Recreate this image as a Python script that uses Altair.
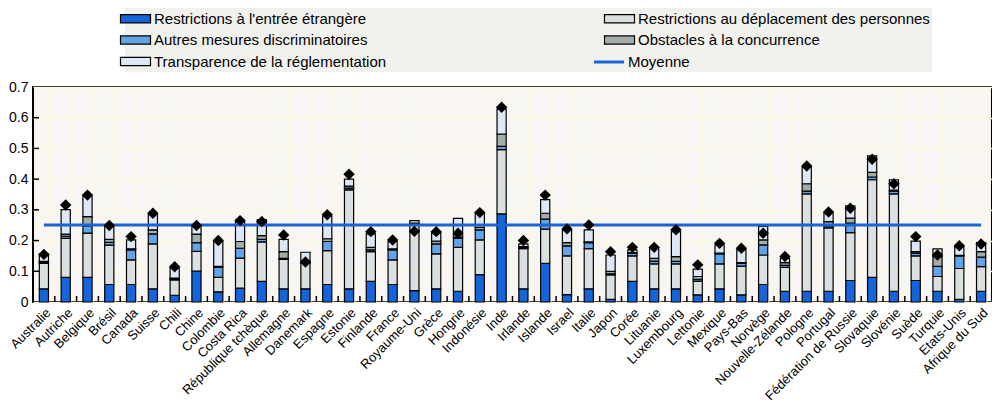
import altair as alt
import pandas as pd

FONT = "Liberation Sans, Arial, Helvetica, sans-serif"

countries = [
    "Australie", "Autriche", "Belgique", "Brésil", "Canada", "Suisse", "Chili", "Chine", "Colombie", "Costa Rica",
    "République tchèque", "Allemagne", "Danemark", "Espagne", "Estonie", "Finlande", "France", "Royaume-Uni", "Grèce", "Hongrie",
    "Indonésie", "Inde", "Irlande", "Islande", "Israel", "Italie", "Japon", "Corée", "Lituanie", "Luxembourg",
    "Lettonie", "Mexique", "Pays-Bas", "Norvège", "Nouvelle-Zélande", "Pologne", "Portugal", "Fédération de Russie", "Slovaquie", "Slovénie",
    "Suède", "Turquie", "Etats-Unis", "Afrique du Sud",
]

series_names = [
    "Restrictions à l'entrée étrangère",
    "Restrictions au déplacement des personnes",
    "Autres mesures discriminatoires",
    "Obstacles à la concurrence",
    "Transparence de la réglementation",
]
series_colors = ["#1464dc", "#dadfdf", "#63a4e6", "#a3aeab", "#dde8f7"]
# legend is filled column by column: this order reads row by row as in the source
legend_order = [0, 2, 4, 1, 3]

entry = [
    0.043, 0.080, 0.080, 0.057, 0.057, 0.043, 0.022, 0.101, 0.033, 0.045,
    0.067, 0.043, 0.043, 0.057, 0.043, 0.067, 0.057, 0.037, 0.043, 0.035,
    0.089, 0.287, 0.043, 0.126, 0.024, 0.043, 0.009, 0.067, 0.043, 0.043,
    0.023, 0.043, 0.023, 0.057, 0.035, 0.035, 0.035, 0.070, 0.080, 0.035,
    0.070, 0.035, 0.009, 0.035,
]
movement = [
    0.083, 0.127, 0.144, 0.128, 0.080, 0.146, 0.050, 0.064, 0.047, 0.098,
    0.129, 0.096, 0.083, 0.110, 0.322, 0.097, 0.080, 0.216, 0.114, 0.143,
    0.113, 0.209, 0.131, 0.111, 0.126, 0.131, 0.079, 0.083, 0.081, 0.081,
    0.045, 0.081, 0.094, 0.096, 0.078, 0.317, 0.206, 0.156, 0.318, 0.317,
    0.080, 0.048, 0.100, 0.080,
]
other = [
    0.003, 0.007, 0.024, 0.009, 0.033, 0.033, 0.003, 0.028, 0.033, 0.032,
    0.008, 0.003, 0.004, 0.030, 0.006, 0.006, 0.033, 0.002, 0.032, 0.030,
    0.033, 0.011, 0.003, 0.033, 0.033, 0.019, 0.004, 0.009, 0.009, 0.008,
    0.006, 0.033, 0.009, 0.033, 0.006, 0.009, 0.004, 0.031, 0.009, 0.009,
    0.009, 0.033, 0.041, 0.031,
]
competition = [
    0.003, 0.007, 0.030, 0.010, 0.003, 0.013, 0.003, 0.028, 0.003, 0.022,
    0.012, 0.022, 0.004, 0.009, 0.006, 0.008, 0.003, 0.002, 0.009, 0.003,
    0.008, 0.040, 0.003, 0.019, 0.010, 0.003, 0.008, 0.002, 0.009, 0.016,
    0.009, 0.002, 0.002, 0.016, 0.009, 0.024, 0.017, 0.016, 0.015, 0.003,
    0.005, 0.032, 0.002, 0.018,
]
transparency = [
    0.025, 0.080, 0.068, 0.042, 0.029, 0.050, 0.032, 0.025, 0.081, 0.065,
    0.052, 0.040, 0.028, 0.074, 0.023, 0.044, 0.024, 0.008, 0.028, 0.061,
    0.046, 0.081, 0.009, 0.044, 0.042, 0.039, 0.053, 0.009, 0.033, 0.081,
    0.024, 0.027, 0.042, 0.044, 0.014, 0.054, 0.027, 0.040, 0.054, 0.034,
    0.034, 0.025, 0.028, 0.029,
]
totals = [
    0.155, 0.316, 0.348, 0.249, 0.213, 0.289, 0.115, 0.249, 0.200, 0.265,
    0.262, 0.218, 0.130, 0.284, 0.416, 0.229, 0.202, 0.230, 0.229, 0.224,
    0.291, 0.634, 0.200, 0.348, 0.238, 0.251, 0.164, 0.178, 0.178, 0.235,
    0.121, 0.191, 0.175, 0.224, 0.148, 0.443, 0.293, 0.305, 0.465, 0.385,
    0.213, 0.153, 0.183, 0.189,
]
mean_label = "Moyenne"
mean_value = 0.251

y_label_values = [0, 0.1, 0.2, 0.3, 0.4, 0.5, 0.6, 0.7]
y_inner_ticks = [0.1, 0.2, 0.3, 0.4, 0.5, 0.6]

# ---- tables built from the lists ----
rows = []
for i, c in enumerate(countries):
    for k, vals in enumerate([entry, movement, other, competition, transparency]):
        rows.append({"pays": c, "serie": series_names[k], "valeur": vals[i], "ordre": k})
df_bars = pd.DataFrame(rows)
df_tot = pd.DataFrame({"pays": countries, "total": totals})
df_moy = pd.DataFrame({"pays": countries, "moyenne": [mean_value for _ in countries], "serie": mean_label})
df_yt = pd.DataFrame({"tick": y_inner_ticks})

PLOT_BG = "#f7f6f2"
GRID = "#fdf8e2"
LEG_BG = "#f1f1ee"
LINE_BLUE = "#1a64d8"

x_axis = alt.Axis(labelAngle=-45, labelFont=FONT, labelFontSize=13, labelColor="black",
                  labelPadding=4, ticks=False, domain=False, grid=True, tickBand="extent",
                  gridColor=GRID, gridWidth=1.5, labelOverlap=False, labelLimit=300)
y_axis = alt.Axis(values=y_label_values, format=".1~f", labelFont=FONT, labelFontSize=14,
                  labelColor="black", labelPadding=5, ticks=False, domain=False,
                  labelOverlap=False, labelFlush=False,
                  grid=True, gridColor=GRID, gridWidth=1.5)
y_scale = alt.Scale(domain=[0, 0.7], nice=False, zero=True)

x_main = alt.X("pays:N", sort=countries, title=None,
               scale=alt.Scale(paddingInner=0.58, paddingOuter=0.29), axis=x_axis)
x_plain = alt.X("pays:N", sort=countries, title=None, axis=x_axis)

bars = alt.Chart(df_bars).mark_bar(stroke="black", strokeWidth=1.2).encode(
    x=x_main,
    y=alt.Y("valeur:Q", stack="zero", title=None, scale=y_scale, axis=y_axis),
    fill=alt.Fill("serie:N",
                  scale=alt.Scale(domain=[series_names[k] for k in legend_order],
                                  range=[series_colors[k] for k in legend_order]),
                  legend=alt.Legend(title=None, orient="none", legendX=92, legendY=-79,
                                    columns=2, columnPadding=215, rowPadding=4.5,
                                    symbolType="M-2,-0.55H2V0.55H-2Z", symbolSize=225,
                                    symbolStrokeColor="black", symbolStrokeWidth=1.2,
                                    labelFont=FONT, labelFontSize=15, labelColor="black",
                                    labelOffset=10, labelLimit=500, fillColor=LEG_BG, padding=2)),
    order=alt.Order("ordre:Q", sort="ascending"),
)

line = alt.Chart(df_moy).mark_line(strokeWidth=3).encode(
    x=x_plain,
    y=alt.Y("moyenne:Q", title=None, scale=y_scale, axis=y_axis),
    stroke=alt.Stroke("serie:N", scale=alt.Scale(domain=[mean_label], range=[LINE_BLUE]),
                      legend=alt.Legend(title=None, orient="none", legendX=565, legendY=-36,
                                        symbolType="M-2,0H2", symbolSize=225, symbolStrokeWidth=3,
                                        labelFont=FONT, labelFontSize=15, labelColor="black",
                                        labelOffset=10, fillColor=LEG_BG, padding=2)),
)

diamonds = alt.Chart(df_tot).mark_point(shape="diamond", filled=True, color="black", size=130, opacity=1).encode(
    x=x_plain,
    y=alt.Y("total:Q", title=None, scale=y_scale, axis=y_axis),
)

yticks = alt.Chart(df_yt).mark_rule(color="black", strokeWidth=1.5).encode(
    y=alt.Y("tick:Q", title=None, scale=y_scale, axis=y_axis), x=alt.value(0), x2=alt.value(6)
)

xticks = alt.Chart(df_tot).mark_rule(color="black", strokeWidth=1.5, xOffset=-6.32).encode(
    x=alt.X("pays:N", sort=countries, title=None, bandPosition=0, axis=x_axis),
    y=alt.value(215), y2=alt.value(209),
)

chart = alt.layer(bars, line, diamonds, yticks, xticks).properties(
    width=959, height=215, padding={"left": 0, "right": 0, "top": 0, "bottom": 0}
).configure_view(fill=PLOT_BG, stroke="black", strokeWidth=2)

chart.save("out.html", embed_options={"renderer": "svg", "actions": False})
